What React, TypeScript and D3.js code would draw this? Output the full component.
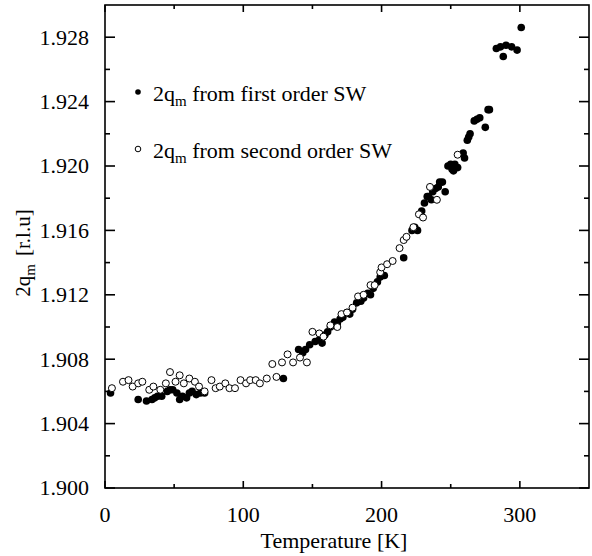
import React from "react";
import * as d3 from "d3";

const firstT = [4, 24, 30, 34, 36, 38, 41, 45, 47, 49, 52, 54, 56, 59, 61, 63, 66, 69, 72, 129, 140, 143, 145, 148, 152, 155, 157, 159, 161, 163, 166, 168, 170, 172, 175, 177, 179, 182, 185, 187, 190, 192, 194, 197, 199, 202, 216, 222, 224, 226, 229, 231, 233, 234, 236, 237, 239, 241, 242, 244, 246, 248, 250, 251, 252, 253, 255, 259, 260, 262, 263, 264, 267, 269, 271, 275, 277, 278, 283, 286, 288, 290, 294, 298, 301];
const firstQ = [1.9059, 1.9055, 1.9054, 1.9055, 1.9056, 1.9057, 1.9057, 1.906, 1.9061, 1.9061, 1.9059, 1.9055, 1.9057, 1.9056, 1.9059, 1.906, 1.9058, 1.9059, 1.9059, 1.9068, 1.9086, 1.9084, 1.9086, 1.9089, 1.9091, 1.9092, 1.909, 1.9095, 1.9097, 1.91, 1.9103, 1.9102, 1.9105, 1.9106, 1.9109, 1.9108, 1.9111, 1.9115, 1.9116, 1.9118, 1.9121, 1.912, 1.9124, 1.9128, 1.9131, 1.9132, 1.9143, 1.916, 1.9162, 1.916, 1.9172, 1.9177, 1.9181, 1.9181, 1.9179, 1.9184, 1.9186, 1.9187, 1.919, 1.919, 1.9184, 1.92, 1.9201, 1.9198, 1.9197, 1.9201, 1.9199, 1.9208, 1.9205, 1.9216, 1.9218, 1.922, 1.9228, 1.9229, 1.923, 1.9224, 1.9235, 1.9235, 1.9273, 1.9274, 1.9268, 1.9275, 1.9274, 1.9272, 1.9286];

const secondT = [5, 13, 17, 20, 24, 27, 32, 35, 40, 44, 47, 51, 54, 57, 61, 65, 68, 72, 77, 80, 83, 87, 90, 94, 98, 102, 105, 109, 112, 117, 121, 124, 128, 132, 136, 141, 146, 150, 155, 158, 163, 168, 171, 175, 179, 183, 187, 192, 195, 199, 200, 204, 208, 213, 216, 218, 223, 227, 230, 235, 240, 255];
const secondQ = [1.9062, 1.9066, 1.9067, 1.9063, 1.9065, 1.9066, 1.9061, 1.9063, 1.9061, 1.9065, 1.9072, 1.9066, 1.907, 1.9065, 1.9068, 1.9066, 1.9063, 1.906, 1.9067, 1.9062, 1.9063, 1.9065, 1.9062, 1.9062, 1.9067, 1.9065, 1.9067, 1.9067, 1.9065, 1.9068, 1.9077, 1.9069, 1.9078, 1.9083, 1.9078, 1.9081, 1.9078, 1.9097, 1.9096, 1.9094, 1.9101, 1.91, 1.9108, 1.9109, 1.9112, 1.9119, 1.912, 1.9126, 1.9126, 1.9134, 1.9137, 1.9139, 1.9141, 1.9149, 1.9154, 1.9156, 1.9162, 1.917, 1.9168, 1.9187, 1.9179, 1.9207];

const xMajor = [0, 100, 200, 300];
const xMinor = [50, 150, 250];
const yMajor = [1.9, 1.904, 1.908, 1.912, 1.916, 1.92, 1.924, 1.928];
const yMinor = [1.902, 1.906, 1.91, 1.914, 1.918, 1.922, 1.926];

const legendLabels = ["from first order SW", "from second order SW"];

const FONT = "Liberation Serif, Times New Roman, serif";

export default function App() {
  const L = 105, R = 589, T = 5, B = 488;
  const x = d3.scaleLinear().domain([0, 350]).range([L, R]);
  const y = d3.scaleLinear().domain([1.9, 1.93]).range([B, T]);
  const fs = 22;
  const sw = 1.6;

  return (
    <svg width={592} height={556} style={{ position: "absolute", left: 0, top: 0 }} fontFamily={FONT}>
      <rect x={0} y={0} width={592} height={556} fill="white" />
      {firstT.map((t, i) => (
        <circle key={"f" + i} cx={x(t)} cy={y(firstQ[i])} r={3.8} fill="black" />
      ))}
      {secondT.map((t, i) => (
        <circle key={"s" + i} cx={x(t)} cy={y(secondQ[i])} r={3.5} fill="white" stroke="black" strokeWidth={1} />
      ))}
      <rect x={L} y={T} width={R - L} height={B - T} fill="none" stroke="black" strokeWidth={sw} />
      {yMajor.map((v) => (
        <g key={"ym" + v}>
          <line x1={L} x2={L + 10} y1={y(v)} y2={y(v)} stroke="black" strokeWidth={sw} />
          <line x1={R} x2={R - 10} y1={y(v)} y2={y(v)} stroke="black" strokeWidth={sw} />
          <text x={89} y={y(v)} dy="0.34em" textAnchor="end" fontSize={fs}>{v.toFixed(3)}</text>
        </g>
      ))}
      {yMinor.map((v) => (
        <g key={"yn" + v}>
          <line x1={L} x2={L + 5} y1={y(v)} y2={y(v)} stroke="black" strokeWidth={sw} />
          <line x1={R} x2={R - 5} y1={y(v)} y2={y(v)} stroke="black" strokeWidth={sw} />
        </g>
      ))}
      {xMajor.map((v) => (
        <g key={"xm" + v}>
          <line x1={x(v)} x2={x(v)} y1={B} y2={B - 7} stroke="black" strokeWidth={sw} />
          <line x1={x(v)} x2={x(v)} y1={T} y2={T + 7} stroke="black" strokeWidth={sw} />
          <text x={x(v)} y={522} textAnchor="middle" fontSize={fs}>{v}</text>
        </g>
      ))}
      {xMinor.map((v) => (
        <g key={"xn" + v}>
          <line x1={x(v)} x2={x(v)} y1={B} y2={B - 4} stroke="black" strokeWidth={sw} />
          <line x1={x(v)} x2={x(v)} y1={T} y2={T + 4} stroke="black" strokeWidth={sw} />
        </g>
      ))}
      <text x={334} y={548} textAnchor="middle" fontSize={fs}>Temperature [K]</text>
      <text transform="translate(30,253) rotate(-90)" textAnchor="middle" fontSize={21}>
        2q<tspan fontSize={15} dy={5}>m</tspan>
        <tspan dy={-5} dx={8}>[r.l.u]</tspan>
      </text>
      <circle cx={138} cy={92} r={2.8} fill="black" />
      <text x={153} y={101} fontSize={fs}>
        2q<tspan fontSize={15} dy={5}>m</tspan><tspan dy={-5}> {legendLabels[0]}</tspan>
      </text>
      <circle cx={138} cy={149} r={2.8} fill="white" stroke="black" strokeWidth={1} />
      <text x={153} y={158} fontSize={fs}>
        2q<tspan fontSize={15} dy={5}>m</tspan><tspan dy={-5}> {legendLabels[1]}</tspan>
      </text>
    </svg>
  );
}
